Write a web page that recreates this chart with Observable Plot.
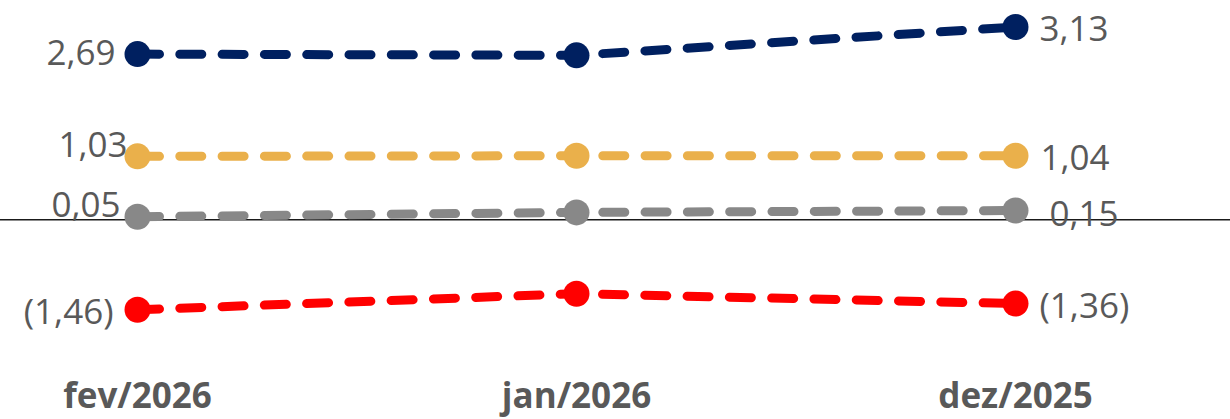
<!DOCTYPE html>
<html>
<head>
<meta charset="utf-8">
<script src="https://cdn.jsdelivr.net/npm/d3@7"></script>
<script src="https://cdn.jsdelivr.net/npm/@observablehq/plot@0.6"></script>
<style>
  html, body { margin: 0; padding: 0; background: #fff; }
  #chart svg { display: block; }
</style>
</head>
<body>
<div id="chart"></div>
<script>
// ---- data ----
const months = ["fev/2026", "jan/2026", "dez/2025"];
const seriesNames = ["A", "B", "C", "D"];
const seriesAValues = [2.69, 2.67, 3.13];
const seriesBValues = [1.03, 1.04, 1.04];
const seriesCValues = [0.05, 0.12, 0.15];
const seriesDValues = [-1.46, -1.20, -1.36];

// ---- styles ----
const seriesColors = ["#002060", "#EAB04B", "#888888", "#FF0000"];
const labelStyle = {
  A: {ldx: -22, ldy: 0, rdx: 24, rdy: 3},
  B: {ldx: -10, ldy: -11, rdx: 25, rdy: 3},
  C: {ldx: -17, ldy: -11, rdx: 34, rdy: 4},
  D: {ldx: -24, ldy: 3, rdx: 24, rdy: 3}
};

const valuesBySeries = {A: seriesAValues, B: seriesBValues, C: seriesCValues, D: seriesDValues};
const rows = seriesNames.flatMap(s => months.map((m, i) => ({series: s, month: m, value: valuesBySeries[s][i], idx: i})));

const fmt = v => {
  const s = Math.abs(v).toFixed(2).replace(".", ",");
  return v < 0 ? `(${s})` : s;
};

const textFont = {fontSize: 35, fill: "#595959"};
const labelMarks = seriesNames.flatMap(s => {
  const st = labelStyle[s];
  const left = rows.filter(r => r.series === s && r.idx === 0);
  const right = rows.filter(r => r.series === s && r.idx === months.length - 1);
  return [
    Plot.text(left, {x: "month", y: "value", text: d => fmt(d.value), textAnchor: "end", dx: st.ldx, dy: st.ldy, ...textFont}),
    Plot.text(right, {x: "month", y: "value", text: d => fmt(d.value), textAnchor: "start", dx: st.rdx, dy: st.rdy, ...textFont})
  ];
});

const chart = Plot.plot({
  width: 1230,
  height: 419,
  marginTop: 0,
  marginBottom: 89,
  marginLeft: 0,
  marginRight: 0,
  style: {fontFamily: "'Open Sans', 'Noto Sans', sans-serif", background: "#fff", overflow: "visible"},
  x: {type: "point", domain: months, padding: 0.4, align: 0.39, label: null},
  y: {domain: [-1.797, 3.56], axis: null},
  color: {type: "ordinal", domain: seriesNames, range: seriesColors},
  marks: [
    Plot.ruleY([0], {stroke: "#1a1a1a", strokeWidth: 1.5}),
    Plot.line(rows, {x: "month", y: "value", z: "series", stroke: "series", strokeWidth: 9, strokeDasharray: "22 20.3", strokeLinecap: "round", curve: "linear"}),
    Plot.dot(rows, {x: "month", y: "value", fill: "series", r: 13, stroke: null}),
    ...labelMarks,
    Plot.axisX({tickSize: 0, tickPadding: 53, fontSize: 35, fontWeight: "bold", color: "#595959", label: null})
  ]
});
document.getElementById("chart").appendChild(chart);
</script>
</body>
</html>
